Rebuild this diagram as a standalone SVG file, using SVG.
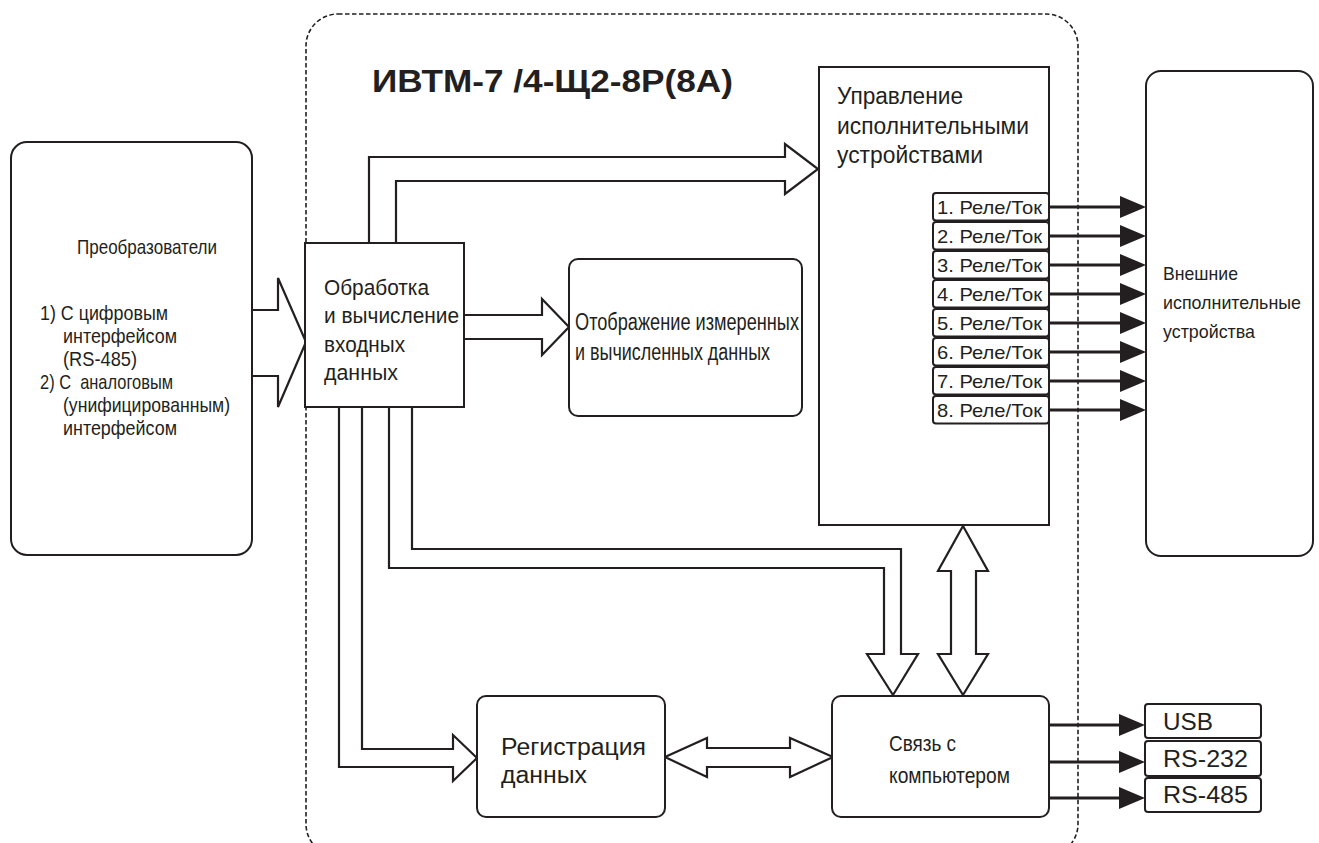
<svg xmlns="http://www.w3.org/2000/svg" width="1319" height="843" viewBox="0 0 1319 843">
<style>
text{font-family:"Liberation Sans",Arial,sans-serif;fill:#231f20}
.box{fill:#fff;stroke:#231f20;stroke-width:2}
.rel{fill:#fff;stroke:#231f20;stroke-width:2}
.hollow{fill:#fff;stroke:#231f20;stroke-width:2.2;stroke-linejoin:miter}
.thick{fill:none;stroke:#231f20;stroke-width:3.2}
.frame{fill:none;stroke:#231f20;stroke-width:1.6;stroke-dasharray:4.5 2.5}
.fc{font-size:21px}.fe{font-size:19px}.fp{font-size:22px}.fd{font-size:23px}.fu{font-size:23.5px}.fr{font-size:18.5px}.fi{font-size:24px}
</style>
<defs>
<marker id="ah" markerUnits="userSpaceOnUse" markerWidth="26" markerHeight="22" refX="20" refY="11" orient="auto">
<path d="M0,0 L26,11 L0,22 z" fill="#231f20"/>
</marker>
</defs>
<rect width="1319" height="843" fill="#fff"/>

<g id="device-frame">
<rect class="frame" x="306" y="14" width="772" height="842" rx="32"/>
<text x="372" y="92" font-size="32" font-weight="bold" textLength="361" lengthAdjust="spacingAndGlyphs">ИВТМ-7 /4-Щ2-8Р(8А)</text>
</g>

<g id="connectors">
<path class="hollow" d="M252,310 H278 V278 L306,342 L278,407 V376 H252"/>
<path class="hollow" d="M464,315 H542 V299 L569,327 L542,355 V339 H464"/>
<path class="hollow" d="M369,243 V157 H785 V144 L818,169 L785,194 V181 H396 V243"/>
<path class="hollow" d="M362,407 V749 H453 V735 L477,758 L453,781 V767 H339 V407"/>
<path class="hollow" d="M412,407 V549 H901 V654 H918 L893,695 L867,654 H884 V568 H389 V407"/>
<path class="hollow" d="M963,526 L988,571 H976 V654 H988 L963,695 L938,654 H951 V571 H938 Z"/>
<path class="hollow" d="M665,757 L707,738 V748 H790 V738 L833,757 L790,777 V767 H707 V777 Z"/>
<g marker-end="url(#ah)">
<line class="thick" x1="1049" y1="207" x2="1140" y2="207"/>
<line class="thick" x1="1049" y1="236" x2="1140" y2="236"/>
<line class="thick" x1="1049" y1="265" x2="1140" y2="265"/>
<line class="thick" x1="1049" y1="294" x2="1140" y2="294"/>
<line class="thick" x1="1049" y1="323" x2="1140" y2="323"/>
<line class="thick" x1="1049" y1="352" x2="1140" y2="352"/>
<line class="thick" x1="1049" y1="381" x2="1140" y2="381"/>
<line class="thick" x1="1049" y1="410" x2="1140" y2="410"/>
<line class="thick" x1="1049" y1="725" x2="1139" y2="725"/>
<line class="thick" x1="1049" y1="762" x2="1139" y2="762"/>
<line class="thick" x1="1049" y1="798" x2="1139" y2="798"/>
</g>
</g>

<g id="converters">
<rect class="box" x="11" y="142" width="241" height="413" rx="16"/>
<text class="fc" x="77" y="254" textLength="140" lengthAdjust="spacingAndGlyphs">Преобразователи</text>
<text class="fc" x="40" y="320" textLength="128" lengthAdjust="spacingAndGlyphs">1) С цифровым</text>
<text class="fc" x="63" y="343" textLength="114" lengthAdjust="spacingAndGlyphs">интерфейсом</text>
<text class="fc" x="63" y="366" textLength="74" lengthAdjust="spacingAndGlyphs">(RS-485)</text>
<text class="fc" x="40" y="389" textLength="133" lengthAdjust="spacingAndGlyphs" xml:space="preserve">2) С  аналоговым</text>
<text class="fc" x="63" y="412" textLength="167" lengthAdjust="spacingAndGlyphs">(унифицированным)</text>
<text class="fc" x="63" y="435" textLength="114" lengthAdjust="spacingAndGlyphs">интерфейсом</text>
</g>

<g id="processing">
<rect class="box" x="305" y="243" width="159" height="164"/>
<text class="fp" x="324" y="295" textLength="105" lengthAdjust="spacingAndGlyphs">Обработка</text>
<text class="fp" x="324" y="323" textLength="135" lengthAdjust="spacingAndGlyphs">и вычисление</text>
<text class="fp" x="324" y="352" textLength="81" lengthAdjust="spacingAndGlyphs">входных</text>
<text class="fp" x="324" y="380" textLength="74" lengthAdjust="spacingAndGlyphs">данных</text>
</g>

<g id="display">
<rect class="box" x="569" y="259" width="233" height="157" rx="9"/>
<text class="fd" x="575" y="330" textLength="224" lengthAdjust="spacingAndGlyphs">Отображение измеренных</text>
<text class="fd" x="575" y="360" textLength="195" lengthAdjust="spacingAndGlyphs">и вычисленных данных</text>
</g>

<g id="actuator-control">
<rect class="box" x="819" y="67" width="230" height="458"/>
<text class="fu" x="837" y="104" textLength="126" lengthAdjust="spacingAndGlyphs">Управление</text>
<text class="fu" x="837" y="134" textLength="192" lengthAdjust="spacingAndGlyphs">исполнительными</text>
<text class="fu" x="837" y="163" textLength="146" lengthAdjust="spacingAndGlyphs">устройствами</text>
</g>

<g id="relays">
<rect class="rel" x="933" y="193" width="116" height="27.5" rx="3"/>
<rect class="rel" x="933" y="222" width="116" height="27.5" rx="3"/>
<rect class="rel" x="933" y="251" width="116" height="27.5" rx="3"/>
<rect class="rel" x="933" y="280" width="116" height="27.5" rx="3"/>
<rect class="rel" x="933" y="309" width="116" height="27.5" rx="3"/>
<rect class="rel" x="933" y="338" width="116" height="27.5" rx="3"/>
<rect class="rel" x="933" y="367" width="116" height="27.5" rx="3"/>
<rect class="rel" x="933" y="396" width="116" height="27.5" rx="3"/>
<text class="fr" x="937" y="213.5" textLength="105" lengthAdjust="spacingAndGlyphs">1. Реле/Ток</text>
<text class="fr" x="937" y="242.5" textLength="105" lengthAdjust="spacingAndGlyphs">2. Реле/Ток</text>
<text class="fr" x="937" y="271.5" textLength="105" lengthAdjust="spacingAndGlyphs">3. Реле/Ток</text>
<text class="fr" x="937" y="300.5" textLength="105" lengthAdjust="spacingAndGlyphs">4. Реле/Ток</text>
<text class="fr" x="937" y="329.5" textLength="105" lengthAdjust="spacingAndGlyphs">5. Реле/Ток</text>
<text class="fr" x="937" y="358.5" textLength="105" lengthAdjust="spacingAndGlyphs">6. Реле/Ток</text>
<text class="fr" x="937" y="387.5" textLength="105" lengthAdjust="spacingAndGlyphs">7. Реле/Ток</text>
<text class="fr" x="937" y="416.5" textLength="105" lengthAdjust="spacingAndGlyphs">8. Реле/Ток</text>
</g>

<g id="external-devices">
<rect class="box" x="1146" y="71" width="167" height="485" rx="15"/>
<text class="fe" x="1163" y="280" textLength="75" lengthAdjust="spacingAndGlyphs">Внешние</text>
<text class="fe" x="1163" y="309" textLength="138" lengthAdjust="spacingAndGlyphs">исполнительные</text>
<text class="fe" x="1163" y="338" textLength="92" lengthAdjust="spacingAndGlyphs">устройства</text>
</g>

<g id="registration">
<rect class="box" x="477" y="696" width="188" height="121" rx="9"/>
<text class="fd" x="501" y="755" textLength="145" lengthAdjust="spacingAndGlyphs">Регистрация</text>
<text class="fd" x="501" y="783" textLength="86" lengthAdjust="spacingAndGlyphs">данных</text>
</g>

<g id="pc-link">
<rect class="box" x="832" y="696" width="217" height="121" rx="9"/>
<text class="fp" x="889" y="751" textLength="67" lengthAdjust="spacingAndGlyphs">Связь с</text>
<text class="fp" x="889" y="783" textLength="121" lengthAdjust="spacingAndGlyphs">компьютером</text>
</g>

<g id="interfaces">
<rect class="rel" x="1145" y="704" width="116" height="34" rx="3"/>
<rect class="rel" x="1145" y="741" width="116" height="35" rx="3"/>
<rect class="rel" x="1145" y="778" width="116" height="34" rx="3"/>
<text class="fi" x="1163" y="730" textLength="50" lengthAdjust="spacingAndGlyphs">USB</text>
<text class="fi" x="1163" y="767" textLength="85" lengthAdjust="spacingAndGlyphs">RS-232</text>
<text class="fi" x="1163" y="803" textLength="85" lengthAdjust="spacingAndGlyphs">RS-485</text>
</g>
</svg>
